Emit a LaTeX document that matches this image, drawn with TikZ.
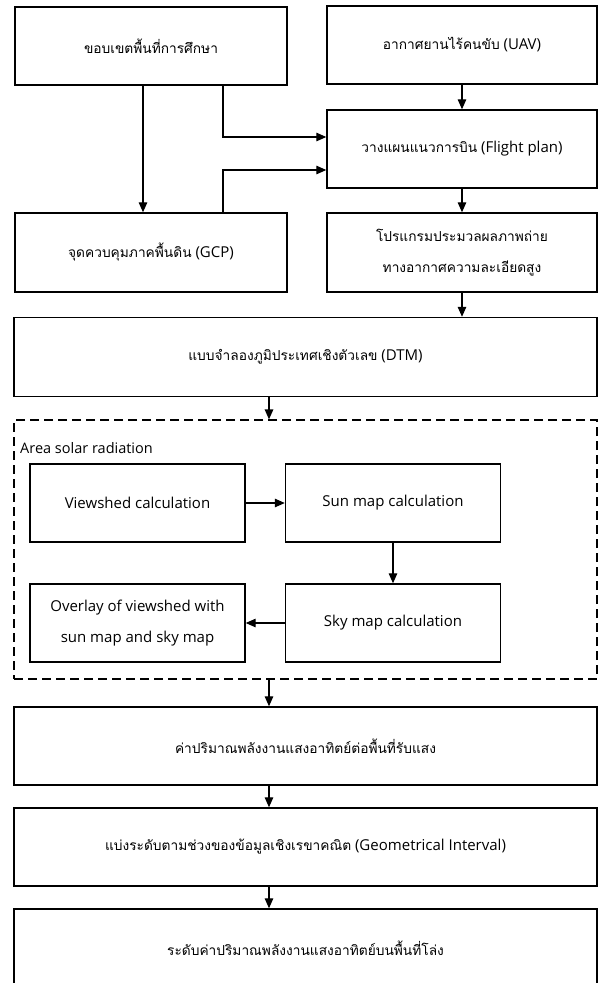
\documentclass[tikz,border=0pt]{standalone}
\usepackage{fontspec}
\setmainfont{Open Sans}
\newfontfamily\thai[Script=Thai,Scale=0.915]{Loma}
\usetikzlibrary{arrows.meta}

\begin{document}
\begin{tikzpicture}[x=1pt,y=-1pt,
        box/.style={draw, line width=1.4pt, align=center, inner sep=0pt,
                    font=\fontsize{15}{31}\selectfont},
        half box/.style={box, minimum width=272pt, minimum height=78pt},
        mid box/.style={box, minimum width=215pt, minimum height=78pt},
        wide box/.style={box, minimum width=583pt, minimum height=78pt},
        frame box/.style={draw, line width=1.2pt, dash pattern=on 9pt off 5pt,
                    minimum width=583pt, minimum height=259pt, inner sep=0pt},
        arr/.style={line width=1.3pt, -{Triangle[length=10pt,width=8.5pt]}}]
        \useasboundingbox (0,0) rectangle (598,983);

        % top part
        \node[half box                      ] (scope) at (151,46)    {\thai ขอบเขตพื้นที่การศึกษา};
        \node[half box, minimum width=270pt ] (uav)   at (462,45)    {{\thai อากาศยานไร้คนขับ} (UAV)};
        \node[half box, minimum width=270pt ] (plan)  at (462,149)   {{\thai วางแผนแนวการบิน} (Flight plan)};
        \node[half box, minimum height=79pt ] (gcp)   at (151,252.5) {{\thai จุดควบคุมภาคพื้นดิน} (GCP)};
        \node[half box, minimum width=270pt,
                        minimum height=79pt ] (prog)  at (462,252.5) {\thai โปรแกรมประมวลผลภาพถ่าย\\\thai ทางอากาศความละเอียดสูง};
        \node[wide box, minimum height=79pt ] (dtm)   at (305.5,357) {{\thai แบบจำลองภูมิประเทศเชิงตัวเลข} (DTM)};

        % area solar radiation
        \node[frame box] (area) at (305.5,549.5) {};
        \node[anchor=west, inner sep=0pt, font=\fontsize{14.5}{17}\selectfont] (title) at (20,448) {Area solar radiation};
        \node[mid box] (view)    at (137.5,503) {Viewshed calculation};
        \node[mid box] (sun)     at (393,503)   {Sun map calculation};
        \node[mid box] (sky)     at (393,623)   {Sky map calculation};
        \node[mid box] (overlay) at (137.5,623) {Overlay of viewshed with\\sun map and sky map};

        % bottom part
        \node[wide box] (energy)   at (305.5,746) {\thai ค่าปริมาณพลังงานแสงอาทิตย์ต่อพื้นที่รับแสง};
        \node[wide box] (interval) at (305.5,847) {{\thai แบ่งระดับตามช่วงของข้อมูลเชิงเรขาคณิต} (Geometrical Interval)};
        \node[wide box] (level)    at (305.5,948) {\thai ระดับค่าปริมาณพลังงานแสงอาทิตย์บนพื้นที่โล่ง};

        \draw[arr] ([xshift=-8pt]scope.south) -- ([xshift=-8pt]gcp.north);
        \draw[arr] ([xshift=72pt]scope.south) |- ([yshift=12pt]plan.west);
        \draw[arr] ([xshift=72pt]gcp.north)   |- ([yshift=-21pt]plan.west);
        \draw[arr] (uav.south)  -- (plan.north);
        \draw[arr] (plan.south) -- (prog.north);
        \draw[arr] (prog.south) -- (prog.south |- dtm.north);
        \draw[arr] ([xshift=-36.5pt]dtm.south) -- ([xshift=-36.5pt]area.north);

        \draw[arr] (view.east) -- (sun.west);
        \draw[arr] (sun.south) -- (sky.north);
        \draw[arr] (sky.west)  -- (overlay.east);

        \draw[arr] ([xshift=-36.5pt]area.south)     -- ([xshift=-36.5pt]energy.north);
        \draw[arr] ([xshift=-36.5pt]energy.south)   -- ([xshift=-36.5pt]interval.north);
        \draw[arr] ([xshift=-36.5pt]interval.south) -- ([xshift=-36.5pt]level.north);
\end{tikzpicture}
\end{document}
